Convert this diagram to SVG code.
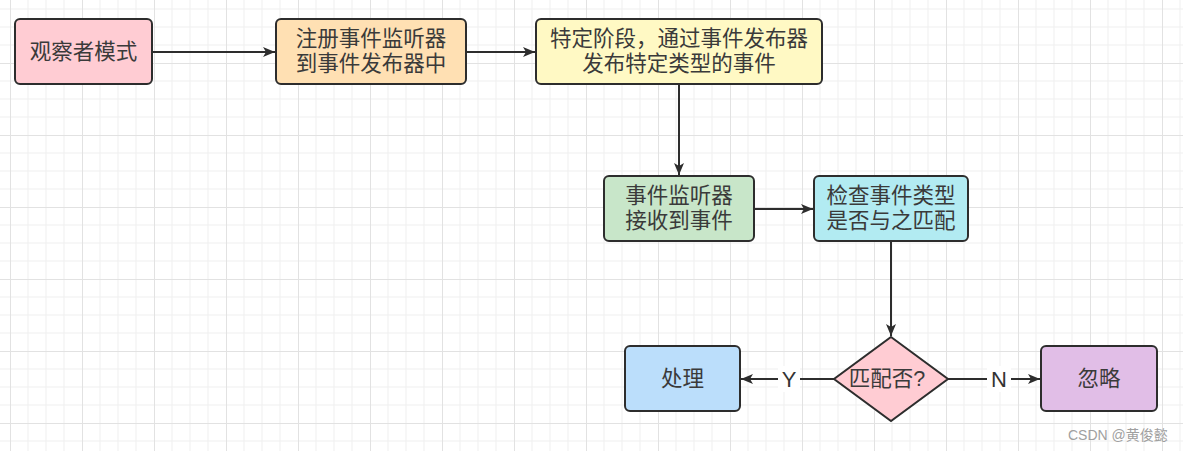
<svg xmlns="http://www.w3.org/2000/svg" width="1183" height="451" viewBox="0 0 1183 451">
<style>
.node{stroke:#2d2d2d;stroke-width:2}
.t{font-family:"Liberation Sans","Noto Sans CJK SC",sans-serif;font-size:21.5px;fill:#3a3a3a;text-anchor:middle;dominant-baseline:central}
.lbl{font-family:"Liberation Sans","Noto Sans CJK SC",sans-serif;font-size:22px;fill:#333;text-anchor:middle;dominant-baseline:central}
.e{fill:none;stroke:#2d2d2d;stroke-width:2}
.wm{font-family:"Liberation Sans","Noto Sans CJK SC",sans-serif;font-size:14px;fill:#a0a0a0}
</style>
<defs>
<pattern id="grid" patternUnits="userSpaceOnUse" x="10" y="-9" width="72" height="72">
<path d="M18 0V72M36 0V72M54 0V72M0 18H72M0 36H72M0 54H72" stroke="#efefef" stroke-width="1" fill="none"/>
<path d="M0.5 0V72M0 0.5H72" stroke="#e2e2e2" stroke-width="1" fill="none"/>
</pattern>
<marker id="arr" viewBox="0 0 12 10" refX="12" refY="5" markerWidth="12" markerHeight="10" markerUnits="userSpaceOnUse" orient="auto">
<path d="M0 0L12 5L0 10L3 5Z" fill="#2d2d2d"/>
</marker>
</defs>
<rect width="1183" height="451" fill="#fff"/>
<rect width="1183" height="451" fill="url(#grid)"/>
<g id="connectors">
<path class="e" d="M152 52H275" marker-end="url(#arr)"/>
<path class="e" d="M466 52H535" marker-end="url(#arr)"/>
<path class="e" d="M679 84V175" marker-end="url(#arr)"/>
<path class="e" d="M754 209H813" marker-end="url(#arr)"/>
<path class="e" d="M891 241V336" marker-end="url(#arr)"/>
<path class="e" d="M834 379H741" marker-end="url(#arr)"/>
<path class="e" d="M948 379H1040" marker-end="url(#arr)"/>
<rect x="778" y="366" width="22" height="26" fill="#fff"/>
<text class="lbl" x="789" y="379">Y</text>
<rect x="987" y="366" width="24" height="26" fill="#fff"/>
<text class="lbl" x="999" y="379">N</text>
</g>
<g id="n1">
<rect class="node" x="15" y="19" width="137" height="65" rx="5" fill="#ffccd3"/>
<text class="t" x="83.5" y="51.5">观察者模式</text>
</g>
<g id="n2">
<rect class="node" x="276" y="19" width="190" height="65" rx="5" fill="#ffe0b3"/>
<text class="t" x="371" y="39">注册事件监听器<tspan x="371" dy="25">到事件发布器中</tspan></text>
</g>
<g id="n3">
<rect class="node" x="536" y="19" width="286" height="65" rx="5" fill="#fff9c4"/>
<text class="t" x="679" y="39">特定阶段，通过事件发布器<tspan x="679" dy="25">发布特定类型的事件</tspan></text>
</g>
<g id="n4">
<rect class="node" x="604" y="176" width="150" height="65" rx="5" fill="#c8e6c9"/>
<text class="t" x="679" y="196">事件监听器<tspan x="679" dy="25">接收到事件</tspan></text>
</g>
<g id="n5">
<rect class="node" x="814" y="176" width="154" height="65" rx="5" fill="#b2ebf2"/>
<text class="t" x="891" y="196">检查事件类型<tspan x="891" dy="25">是否与之匹配</tspan></text>
</g>
<g id="n6">
<path class="node" d="M891 337L948 379L891 421L834 379Z" fill="#ffccd3"/>
<text class="t" x="887" y="379">匹配否?</text>
</g>
<g id="n7">
<rect class="node" x="625" y="346" width="115" height="65" rx="5" fill="#bbdefb"/>
<text class="t" x="682.5" y="379">处理</text>
</g>
<g id="n8">
<rect class="node" x="1041" y="346" width="116" height="65" rx="5" fill="#e1bee7"/>
<text class="t" x="1099" y="379">忽略</text>
</g>
<text class="wm" x="1068" y="440">CSDN @黄俊懿</text>
</svg>
